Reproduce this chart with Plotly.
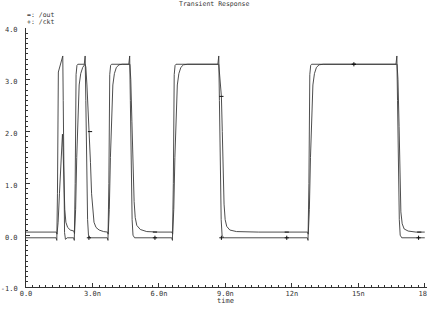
import plotly.graph_objects as go

# ---- data (time in ns, voltage in V) ----
t_ckt = [0, 1.36, 1.39, 1.42, 1.46, 1.55, 1.66, 1.68, 1.71, 1.74, 1.78, 1.86,
         2.15, 2.18, 2.22, 2.26, 2.30, 2.34, 2.63, 2.67, 2.70, 2.74, 2.78, 2.82, 2.88,
         3.67, 3.70, 3.74, 3.78, 3.82, 3.86, 4.64, 4.68, 4.71, 4.75, 4.79, 4.83, 4.90,
         6.58, 6.61, 6.65, 6.69, 6.73, 6.77, 8.66, 8.70, 8.73, 8.77, 8.81, 8.85, 8.92,
         12.70, 12.73, 12.77, 12.81, 12.85, 12.89, 16.70, 16.74, 16.77, 16.81, 16.85, 16.89, 16.96,
         18.0]
v_ckt = [-0.05, -0.05, -0.10, 0.8, 3.15, 3.3, 3.46, 2.6, 0.8, 0.05, -0.08, -0.05,
         -0.05, -0.10, 1.0, 3.1, 3.28, 3.3, 3.3, 3.46, 2.6, 1.2, 0.3, 0.0, -0.05,
         -0.05, -0.10, 1.0, 3.1, 3.28, 3.3, 3.3, 3.46, 2.6, 1.2, 0.3, 0.0, -0.05,
         -0.05, -0.10, 1.0, 3.1, 3.28, 3.3, 3.3, 3.46, 2.6, 1.2, 0.3, 0.0, -0.05,
         -0.05, -0.10, 1.0, 3.1, 3.28, 3.3, 3.3, 3.46, 2.6, 1.2, 0.3, 0.0, -0.05,
         -0.05]

t_out = [0, 1.37, 1.40, 1.45, 1.51, 1.57, 1.62, 1.645, 1.67, 1.71, 1.75, 1.80, 1.88, 2.0,
         2.16, 2.19, 2.24, 2.29, 2.34, 2.40, 2.47, 2.56, 2.66, 2.70, 2.75, 2.81, 2.86, 2.91,
         2.96, 3.01, 3.07, 3.16, 3.3, 3.5,
         3.68, 3.71, 3.76, 3.81, 3.86, 3.92, 3.99, 4.08, 4.2, 4.35, 4.69, 4.73, 4.78, 4.83,
         4.88, 4.93, 5.0, 5.16, 5.45, 6.0,
         6.59, 6.62, 6.67, 6.72, 6.77, 6.83, 6.9, 6.99, 7.11, 7.3, 8.70, 8.74, 8.79, 8.82,
         8.86, 8.9, 8.94, 8.99, 9.06, 9.2, 9.5, 10.5,
         12.71, 12.74, 12.79, 12.84, 12.89, 12.95, 13.02, 13.11, 13.23, 13.42, 16.75, 16.79,
         16.84, 16.88, 16.92, 16.98, 17.07, 17.25, 17.6, 18.0]
v_out = [0.06, 0.06, 0.02, 0.25, 0.8, 1.45, 1.85, 1.95, 1.7, 1.0, 0.5, 0.25, 0.15, 0.1,
         0.08, 0.03, 0.5, 1.5, 2.4, 2.9, 3.12, 3.24, 3.3, 3.25, 2.9, 2.4, 2.0, 1.4,
         0.8, 0.45, 0.25, 0.15, 0.1, 0.07,
         0.06, 0.02, 0.5, 1.5, 2.4, 2.9, 3.12, 3.24, 3.29, 3.3, 3.3, 3.0, 2.2, 1.3,
         0.65, 0.34, 0.19, 0.11, 0.07, 0.06,
         0.06, 0.02, 0.5, 1.5, 2.4, 2.9, 3.12, 3.24, 3.29, 3.3, 3.3, 3.1, 2.85, 2.68,
         2.0, 1.2, 0.6, 0.3, 0.17, 0.1, 0.07, 0.06,
         0.06, 0.02, 0.5, 1.5, 2.4, 2.9, 3.12, 3.24, 3.29, 3.3, 3.3, 3.0,
         2.1, 1.2, 0.45, 0.22, 0.12, 0.08, 0.06, 0.06]

mark_out_t = [2.89, 5.82, 8.82, 11.77, 14.8, 17.75]
mark_out_v = [2.0, 0.06, 2.68, 0.06, 3.3, 0.06]
mark_ckt_t = [2.84, 5.82, 8.82, 11.77, 14.8, 17.72]
mark_ckt_v = [-0.05, -0.05, -0.05, -0.05, 3.3, -0.05]

x_tickvals = [0, 3, 6, 9, 12, 15, 18]
x_ticktext = ["0.0", "3.0n", "6.0n", "9.0n", "12n", "15n", "18n"]
y_tickvals = [-1, 0, 1, 2, 3, 4]
y_ticktext = ["-1.0", "0.0", "1.0", "2.0", "3.0", "4.0"]

FONT = "DejaVu Sans Mono"
INK = "#333333"
LINE = "#3a3a3a"

fig = go.Figure()
fig.add_trace(go.Scatter(x=t_out, y=v_out, mode="lines",
                         line=dict(color=LINE, width=0.9), hoverinfo="skip"))
fig.add_trace(go.Scatter(x=t_ckt, y=v_ckt, mode="lines",
                         line=dict(color=LINE, width=0.9), hoverinfo="skip"))
fig.add_trace(go.Scatter(x=mark_out_t, y=mark_out_v, mode="markers",
                         marker=dict(symbol="line-ew-open", size=3, color="#111111",
                                     line=dict(color="#111111", width=1))))
fig.add_trace(go.Scatter(x=mark_ckt_t, y=mark_ckt_v, mode="markers",
                         marker=dict(symbol="cross-thin-open", size=3, color="#111111",
                                     line=dict(color="#111111", width=1))))

fig.update_layout(
    width=427, height=309,
    margin=dict(l=26, r=0, t=28, b=22),
    paper_bgcolor="white", plot_bgcolor="white",
    showlegend=False,
    font=dict(family=FONT, size=7, color=INK),
    xaxis=dict(range=[0, 18.1], showgrid=False, zeroline=False, automargin=False,
               showline=True, linecolor=INK, linewidth=1,
               tickmode="array", tickvals=x_tickvals, ticktext=x_ticktext,
               ticks="inside", ticklen=4, tickcolor=INK, tickwidth=1,
               ticklabeloverflow="allow",
               tickfont=dict(family=FONT, size=7, color=INK),
               minor=dict(tickmode="linear", tick0=0, dtick=0.3, ticks="inside",
                          ticklen=2, tickcolor=INK, tickwidth=1)),
    yaxis=dict(range=[-1, 4], showgrid=False, zeroline=False, automargin=False,
               showline=True, linecolor=INK, linewidth=1,
               tickmode="array", tickvals=y_tickvals, ticktext=y_ticktext,
               ticks="inside", ticklen=4, tickcolor=INK, tickwidth=1,
               ticklabelstandoff=6, ticklabelshift=2,
               tickfont=dict(family=FONT, size=7, color=INK),
               minor=dict(tickmode="linear", tick0=0, dtick=0.1, ticks="inside",
                          ticklen=2, tickcolor=INK, tickwidth=1)),
    annotations=[
        dict(text="Transient Response", xref="paper", yref="paper",
             x=0.471, y=1.093, xanchor="center", yanchor="middle",
             showarrow=False, font=dict(family=FONT, size=6.5, color=INK)),
        dict(text="=: /out", xref="paper", yref="paper",
             x=-0.003, y=1.052, xanchor="left", yanchor="middle",
             showarrow=False, font=dict(family=FONT, size=6.5, color=INK)),
        dict(text="+: /ckt", xref="paper", yref="paper",
             x=-0.003, y=1.022, xanchor="left", yanchor="middle",
             showarrow=False, font=dict(family=FONT, size=6.5, color=INK)),
        dict(text="time", xref="paper", yref="paper",
             x=0.4975, y=-0.054, xanchor="center", yanchor="middle",
             showarrow=False, font=dict(family=FONT, size=7, color=INK)),
    ],
)

fig.write_html("out.html")
